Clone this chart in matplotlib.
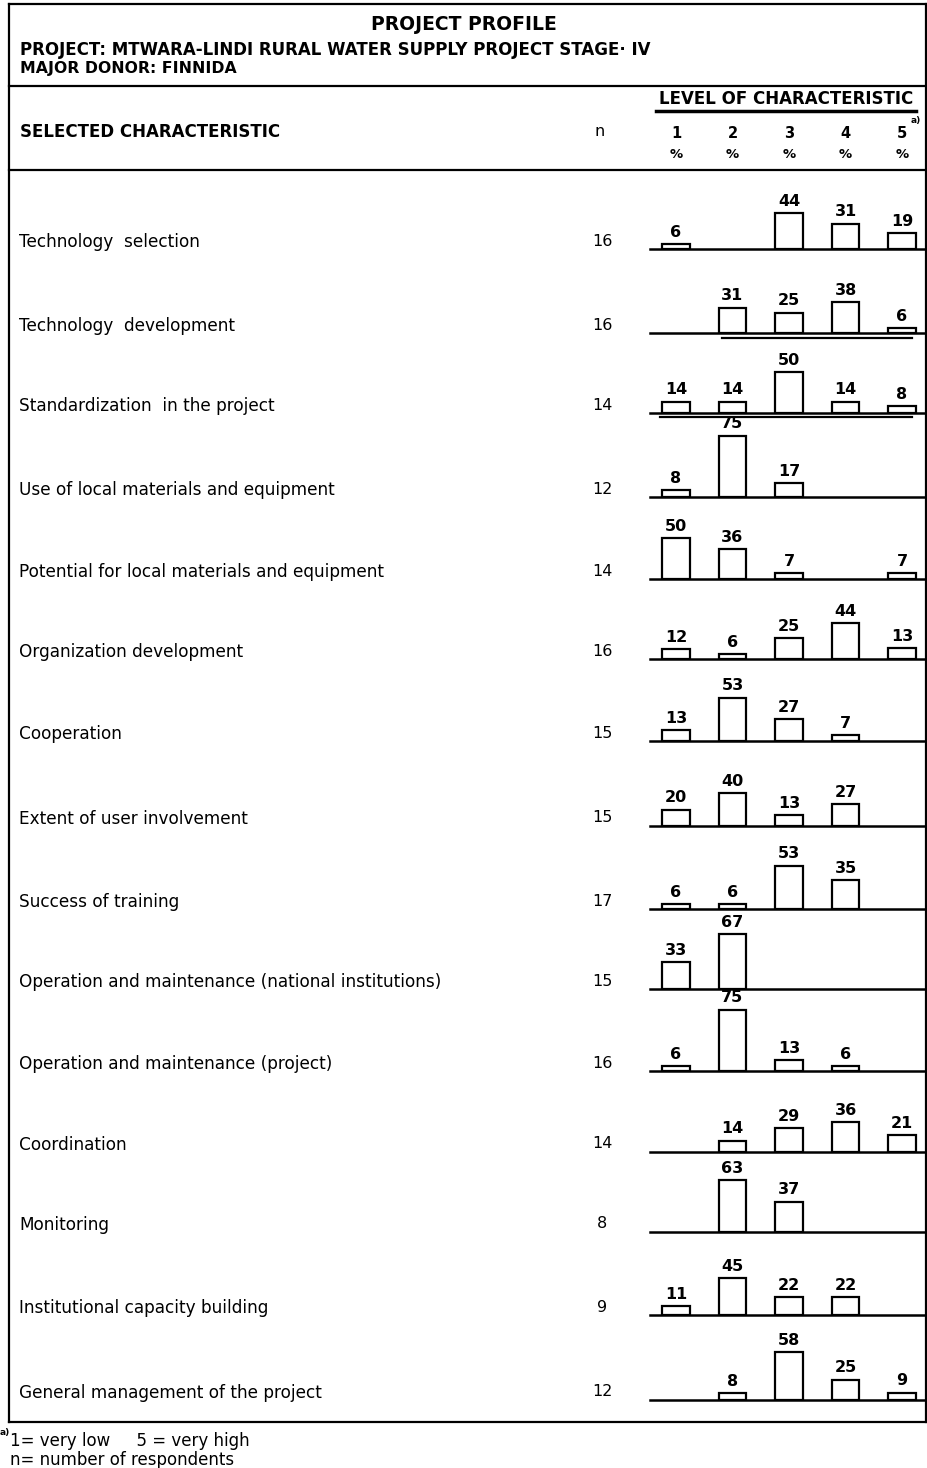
import matplotlib
matplotlib.use("Agg")
import matplotlib.pyplot as plt

# Data
characteristics = [
    "Technology  selection",
    "Technology  development",
    "Standardization  in the project",
    "Use of local materials and equipment",
    "Potential for local materials and equipment",
    "Organization development",
    "Cooperation",
    "Extent of user involvement",
    "Success of training",
    "Operation and maintenance (national institutions)",
    "Operation and maintenance (project)",
    "Coordination",
    "Monitoring",
    "Institutional capacity building",
    "General management of the project",
]
n_resp = [16, 16, 14, 12, 14, 16, 15, 15, 17, 15, 16, 14, 8, 9, 12]
levels = [1, 2, 3, 4, 5]
# percent per level 1..5, None = no bar
pct = [
    [6, None, 44, 31, 19],
    [None, 31, 25, 38, 6],
    [14, 14, 50, 14, 8],
    [8, 75, 17, None, None],
    [50, 36, 7, None, 7],
    [12, 6, 25, 44, 13],
    [13, 53, 27, 7, None],
    [20, 40, 13, 27, None],
    [6, 6, 53, 35, None],
    [33, 67, None, None, None],
    [6, 75, 13, 6, None],
    [None, 14, 29, 36, 21],
    [None, 63, 37, None, None],
    [11, 45, 22, 22, None],
    [None, 8, 58, 25, 9],
]

W, H = 928, 1468
fig = plt.figure(figsize=(W / 100, H / 100), dpi=100)

# background axes in pixel coordinates for frame and text
bg = fig.add_axes([0, 0, 1, 1])
bg.set_xlim(0, W)
bg.set_ylim(H, 0)
bg.axis("off")

lw = 1.6
left, right = 9, 926
bg.plot([left, right], [4, 4], color="black", lw=lw)
bg.plot([left, right], [86, 86], color="black", lw=lw)
bg.plot([left, right], [170, 170], color="black", lw=lw)
bg.plot([left, right], [1422, 1422], color="black", lw=lw)
bg.plot([left, left], [4, 1422], color="black", lw=lw)
bg.plot([right, right], [4, 1422], color="black", lw=lw)

bold = dict(family="DejaVu Sans", weight="bold", color="black")
reg = dict(family="DejaVu Sans", color="black")

bg.text(464, 24, "PROJECT PROFILE", ha="center", va="center", fontsize=13.5, **bold)
bg.text(20, 50, "PROJECT: MTWARA-LINDI RURAL WATER SUPPLY PROJECT STAGE\u00b7 IV",
        ha="left", va="center", fontsize=12, **bold)
bg.text(20, 69, "MAJOR DONOR: FINNIDA", ha="left", va="center", fontsize=11.3, **bold)

# column headers
bg.text(786, 99, "LEVEL OF CHARACTERISTIC", ha="center", va="center", fontsize=12, **bold)
bg.plot([656, 916], [111, 111], color="black", lw=2.5)
bg.text(20, 132, "SELECTED CHARACTERISTIC", ha="left", va="center", fontsize=12, **bold)
bg.text(600, 132, "n", ha="center", va="center", fontsize=11.5, **reg)

# level x positions in pixels (for header labels only)
px_l1, px_step = 676, 56.5
for lv in levels:
    x = px_l1 + (lv - 1) * px_step
    bg.text(x, 133, str(lv), ha="center", va="center", fontsize=10.5, **bold)
    bg.text(x, 155, "%", ha="center", va="center", fontsize=9.5, **bold)
bg.text(911, 121, "a)", ha="left", va="center", fontsize=6.5, **bold)

baselines = [249, 333, 413, 497, 579, 659, 741, 826, 909, 989, 1071, 1152, 1232, 1315, 1400]

# extra printed underlines seen in the original
bg.plot([722, 912], [338, 338], color="black", lw=1.6)
bg.plot([660, 912], [417, 417], color="black", lw=1.6)

ax_left, ax_right = 650, right
x_lo = 1 - (px_l1 - ax_left) / px_step
x_hi = 5 + (ax_right - (px_l1 + 4 * px_step)) / px_step
px_per_pct = 0.82
ax_h = 80

for i, (name, n, vals) in enumerate(zip(characteristics, n_resp, pct)):
    b = baselines[i]
    bg.text(19, b - 7, name, ha="left", va="center", fontsize=12.2, **reg)
    bg.text(602, b - 8, str(n), ha="center", va="center", fontsize=11.5, **reg)

    ax = fig.add_axes([ax_left / W, 1 - b / H, (ax_right - ax_left) / W, ax_h / H])
    ax.set_xlim(x_lo, x_hi)
    ax.set_ylim(0, ax_h / px_per_pct)
    ax.patch.set_alpha(0)
    for s in ["top", "left", "right"]:
        ax.spines[s].set_visible(False)
    ax.spines["bottom"].set_linewidth(1.8)
    ax.set_xticks([])
    ax.set_yticks([])

    xs = [lv for lv, v in zip(levels, vals) if v is not None]
    vs = [v for v in vals if v is not None]
    ax.bar(xs, vs, width=0.48, color="white", edgecolor="black", linewidth=1.6, zorder=3)
    for x, v in zip(xs, vs):
        ax.annotate(str(v), (x, v), xytext=(0, 3), textcoords="offset points",
                    ha="center", va="bottom", fontsize=11.5, **bold)

# footnote
bg.text(0, 1433, "a)", ha="left", va="center", fontsize=6.5, **bold)
bg.text(10, 1441, "1= very low     5 = very high", ha="left", va="center", fontsize=12, **reg)
bg.text(10, 1460, "n= number of respondents", ha="left", va="center", fontsize=12, **reg)

fig.savefig("out.png", dpi=100)
